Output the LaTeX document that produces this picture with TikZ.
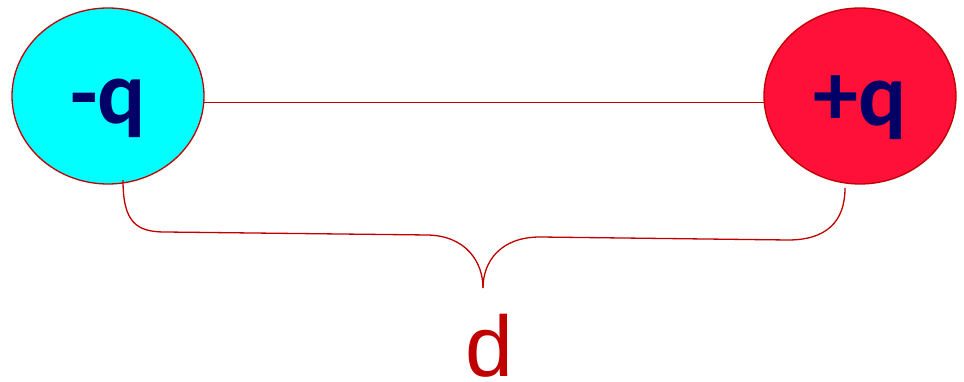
\documentclass[tikz,border=0pt]{standalone}
\usepackage{fontspec}
\usepackage{xcolor}
\usepackage{tikz}
\usetikzlibrary{positioning, shapes, calc}
\newfontfamily\chargefont{Carlito}
\newfontfamily\labelfont{Liberation Sans}
\definecolor{darkred}{HTML}{C00000}
\definecolor{chargenavy}{HTML}{000066}
\definecolor{posred}{HTML}{FF1038}
\definecolor{negcyan}{HTML}{00FFFF}

\begin{document}
\begin{tikzpicture}[x=1pt, y=-1pt, line width=1.3pt]
\useasboundingbox (0,0) rectangle (964,382);
\tikzset{charge/.style={draw=darkred, ellipse, minimum width=192pt, minimum height=176pt, inner sep=0pt},
  chargetext/.style={text=chargenavy, font=\chargefont\bfseries\fontsize{90}{90}\selectfont}}
\node[charge, fill=negcyan] (neg) at (108,96) {};
\node[charge, fill=posred] (pos) at (860,96) {};
\node[chargetext] (negq) at (108,108) {-q};
\node[chargetext] (posq) at (860,108) {+q};
\node[text=darkred, inner sep=0pt, font=\labelfont\fontsize{86}{86}\selectfont] (dist) at (489,346) {d};

\coordinate (bl) at (123,180);
\coordinate (br) at (845,188);
\coordinate (tip) at (483,288);

\draw[darkred] (neg.-4) -- (pos.184);
\draw[darkred] (bl) .. controls (123,222) and (136,232) .. (165,232) -- (428,235) .. controls (466,236) and (483,262) .. (tip);
\draw[darkred] (tip) .. controls (483,262) and (500,237) .. (540,237) -- (788,240) .. controls (826,240) and (845,222) .. (br);
\end{tikzpicture}
\end{document}
